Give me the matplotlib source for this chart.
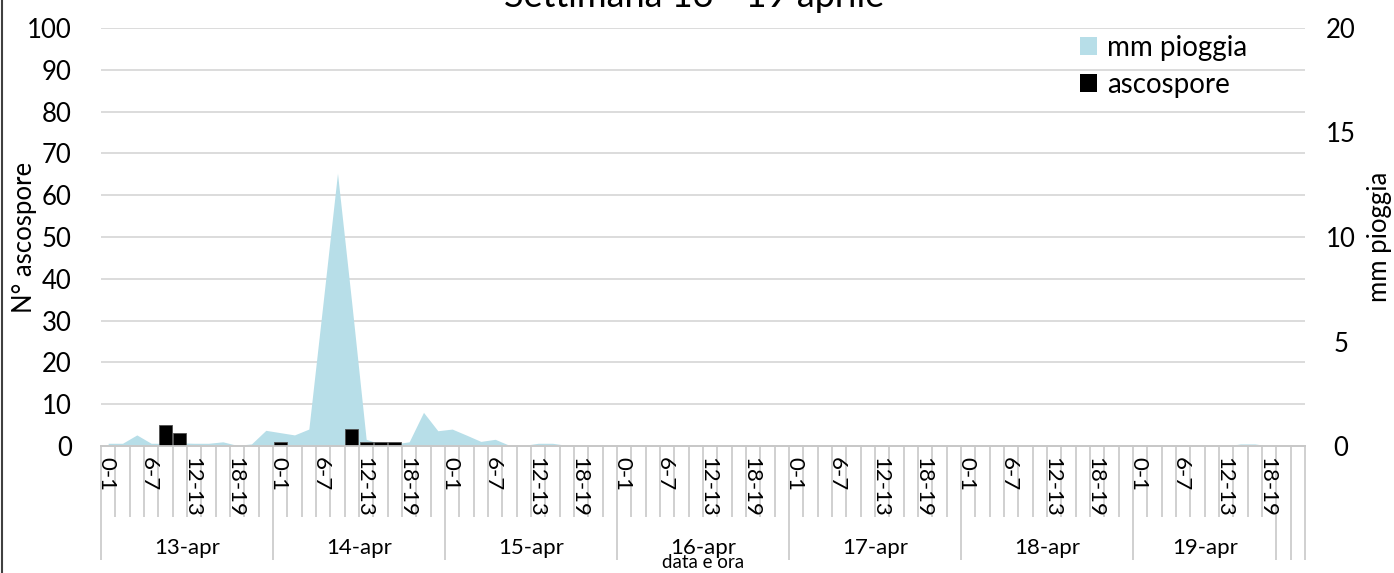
import matplotlib
matplotlib.use('Agg')
import matplotlib.pyplot as plt
from matplotlib.patches import Patch
from matplotlib.lines import Line2D
import matplotlib.transforms as mtransforms
import numpy as np

plt.rcParams['font.family'] = ['Lato', 'DejaVu Sans']

title = 'Settimana 13 - 19 aprile'
days = ['13-apr', '14-apr', '15-apr', '16-apr', '17-apr', '18-apr', '19-apr']
hours = ['0-1', '2-3', '4-5', '6-7', '8-9', '10-11',
         '12-13', '14-15', '16-17', '18-19', '20-21', '22-23']
hours_per_day = [12, 12, 12, 12, 12, 12, 10]
n_blank = 2

# mm pioggia (right axis)
rain = [
    0.13, 0.13, 0.53, 0.13, 0.13, 0.15, 0.13, 0.13, 0.20, 0.03, 0.10, 0.75,   # 13-apr
    0.64, 0.53, 0.81, 6.90, 13.05, 6.80, 0.32, 0.10, 0.10, 0.20, 1.61, 0.73,  # 14-apr
    0.81, 0.52, 0.22, 0.32, 0.03, 0.03, 0.13, 0.13, 0.03, 0.0, 0.0, 0.0,      # 15-apr
    0.0, 0.0, 0.0, 0.0, 0.0, 0.0, 0.0, 0.0, 0.0, 0.0, 0.0, 0.0,               # 16-apr
    0.0, 0.0, 0.0, 0.0, 0.0, 0.0, 0.0, 0.0, 0.0, 0.0, 0.0, 0.0,               # 17-apr
    0.0, 0.0, 0.0, 0.0, 0.0, 0.0, 0.0, 0.0, 0.0, 0.0, 0.0, 0.0,               # 18-apr
    0.0, 0.0, 0.0, 0.0, 0.0, 0.0, 0.0, 0.10, 0.10, 0.0,                       # 19-apr
    0.0, 0.0,                                                                 # blank
]

# N° ascospore (left axis)
spores = [
    0, 0, 0, 0, 5, 3, 0, 0, 0, 0, 0, 0,
    1, 0, 0, 0, 0, 4, 1, 1, 1, 0, 0, 0,
    0, 0, 0, 0, 0, 0, 0, 0, 0, 0, 0, 0,
    0, 0, 0, 0, 0, 0, 0, 0, 0, 0, 0, 0,
    0, 0, 0, 0, 0, 0, 0, 0, 0, 0, 0, 0,
    0, 0, 0, 0, 0, 0, 0, 0, 0, 0, 0, 0,
    0, 0, 0, 0, 0, 0, 0, 0, 0, 0,
    0, 0,
]

rain_color = '#B7DEE8'
grid_color = '#D9D9D9'
axis_color = '#C8C8C8'

# build categories
cat_day, cat_hour = [], []
for d, n in zip(days, hours_per_day):
    for h in hours[:n]:
        cat_day.append(d)
        cat_hour.append(h)
for _ in range(n_blank):
    cat_day.append('')
    cat_hour.append('')
N = len(cat_day)
x = np.arange(N)

W, H = 1394, 573
fig = plt.figure(figsize=(W / 100, H / 100), dpi=100)
L, R, B, T = 101 / W, 1305 / W, 1 - 446 / H, 1 - 28 / H
ax = fig.add_axes([L, B, R - L, T - B])
ax2 = ax.twinx()
ax.set_xlim(-0.5, N - 0.5)
ax.set_ylim(0, 100)
ax2.set_ylim(0, 20)

ax.set_yticks(range(0, 101, 10))
ax.yaxis.grid(True, color=grid_color, lw=1.3)
ax.set_axisbelow(True)

ax.fill_between(x, rain, 0, transform=ax2.transData, color=rain_color, lw=0, zorder=1)
ax.set_ylim(0, 100)
ax.bar(x, spores, width=0.9, color='black', edgecolor='#505050', lw=0.6, zorder=3)

for a in (ax, ax2):
    for s in ('top', 'left', 'right'):
        a.spines[s].set_visible(False)
    a.spines['bottom'].set_color(axis_color)
    a.spines['bottom'].set_linewidth(1.3)

# y ticks
ax.tick_params(axis='y', length=0, pad=21, labelsize=18.5)
ax2.set_yticks([0, 5, 10, 15, 20])
ax2.tick_params(axis='y', length=0, pad=26, labelsize=18.5)
for lbl in ax2.get_yticklabels():
    lbl.set_horizontalalignment('center')

# x axis: category boundaries as ticks
bounds = np.arange(N + 1) - 0.5
group_starts = [0]
for n in hours_per_day:
    group_starts.append(group_starts[-1] + n)
for _ in range(n_blank):
    group_starts.append(group_starts[-1] + 1)
group_bounds = np.array(group_starts) - 0.5
minor_b = [b for b in bounds if b not in set(group_bounds)]
ax.set_xticks(group_bounds)
ax.set_xticks(minor_b, minor=True)
ax.tick_params(axis='x', which='major', length=114 / 1.389, width=1.2, color=axis_color, labelbottom=False)
ax.tick_params(axis='x', which='minor', length=71 / 1.389, width=1.2, color=axis_color, labelbottom=False)
ax2.tick_params(axis='x', which='both', length=0, labelbottom=False)

trans = mtransforms.blended_transform_factory(ax.transData, ax.transAxes)
ah = 446 - 28
for i, h in enumerate(cat_hour):
    if h and hours.index(h) % 3 == 0:
        ax.text(i - 0.15, -11 / ah, h, transform=trans, rotation=-90, ha='center', va='top', fontsize=16)
for d in days:
    idx = [i for i, cd in enumerate(cat_day) if cd == d]
    ax.text(np.mean(idx), -(548 - 446) / ah, d, transform=trans, ha='center', va='center', fontsize=16)

fig.text(703 / W, 1 - 562 / H, 'data e ora', ha='center', va='center', fontsize=13.5)
fig.text(25 / W, 1 - 237 / H, 'N° ascospore', rotation=90, ha='center', va='center', fontsize=18.5)
fig.text(1380 / W, 1 - 237 / H, 'mm pioggia', rotation=90, ha='center', va='center', fontsize=18.5)
fig.text(0.498, 1 - 7 / H, title, ha='center', va='baseline', fontsize=26)

handles = [Patch(facecolor=rain_color, label='mm pioggia'),
           Patch(facecolor='black', label='ascospore')]
fig.legend(handles=handles, loc='upper left', bbox_to_anchor=(1080 / W, 1 - 35 / H),
           frameon=False, fontsize=20, handlelength=0.62, handleheight=0.62,
           handletextpad=0.35, labelspacing=0.38, borderpad=0, borderaxespad=0)

fig.add_artist(Line2D([0.0015, 0.0015], [0, 1], color='#404040', lw=1.5))

fig.savefig('out.png', dpi=100)
